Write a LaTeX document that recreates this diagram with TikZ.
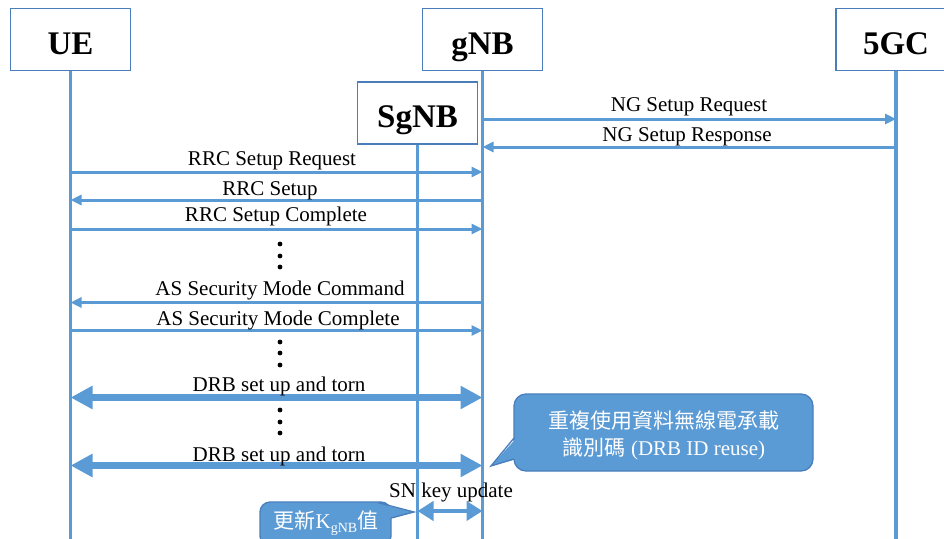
\documentclass[tikz,border=0pt]{standalone}
\usepackage{fontspec}
\setmainfont{Liberation Serif}
\newfontfamily\cjk{Noto Sans CJK TC}
\usetikzlibrary{arrows.meta}
\definecolor{lc}{HTML}{5B9BD5}
\definecolor{bc}{HTML}{4A7EBB}
\definecolor{cf}{HTML}{5B9BD5}
\newcommand\ttlfont{\fontsize{33}{36}\selectfont\bfseries}
\newcommand\labfont{\fontsize{21}{25}\selectfont}
\tikzset{
  ent/.style={draw=bc, line width=1.4pt, fill=white, minimum width=120pt, minimum height=62pt, inner sep=0pt, text height=29pt, text depth=0pt, font=\ttlfont},
  life/.style={draw=lc, line width=3.2pt},
  msg/.style={draw=lc, line width=3pt, -{Triangle[length=11pt,width=10pt]}},
  bigmsg/.style={draw=lc, line width=6.5pt, {Triangle[length=22pt,width=22pt]}-{Triangle[length=22pt,width=22pt]}},
  smallmsg/.style={draw=lc, line width=4.5pt, {Triangle[length=16pt,width=19pt]}-{Triangle[length=16pt,width=19pt]}},
  lab/.style={anchor=base, font=\labfont, inner sep=0pt},
  callbox/.style={draw=bc, line width=1.3pt, fill=cf, rounded corners=12pt, inner sep=0pt},
  calltext/.style={anchor=base, font=\labfont, text=white, inner sep=0pt},
  pointer/.style={draw=bc, line width=1.3pt, line join=miter},
}
\begin{document}
\begin{tikzpicture}[x=1pt,y=-1pt]
\useasboundingbox (0,0) rectangle (944,538);
\clip (0,0) rectangle (944,538);

% entities
\node[ent] (ue) at (70.5,39.5) {UE};
\node[ent] (gnb) at (482.5,39.5) {gNB};
\node[ent] (cn) at (896,39.5) {5GC};
\node[ent] (sgnb) at (417.5,113) {SgNB};

% lifelines
\draw[life] (ue.south) -- (ue |- 0,545);
\draw[life] (gnb.south) -- (gnb |- 0,545);
\draw[life] (cn.south) -- (cn |- 0,545);
\draw[life] (sgnb.south) -- (sgnb |- 0,545);

% messages
\draw[msg] (gnb |- 0,119) -- (cn |- 0,119);
\draw[msg] (cn |- 0,147) -- (gnb |- 0,147);
\draw[msg] (ue |- 0,172) -- (gnb |- 0,172);
\draw[msg] (gnb |- 0,200) -- (ue |- 0,200);
\draw[msg] (ue |- 0,229) -- (gnb |- 0,229);
\draw[msg] (gnb |- 0,302.5) -- (ue |- 0,302.5);
\draw[msg] (ue |- 0,330.5) -- (gnb |- 0,330.5);
\draw[bigmsg] (ue |- 0,397.5) -- (gnb |- 0,397.5);
\draw[bigmsg] (ue |- 0,465.5) -- (gnb |- 0,465.5);
\draw[smallmsg] (sgnb |- 0,511) -- (gnb |- 0,511);

% labels
\node[lab] (l1) at (689,111) {NG Setup Request};
\node[lab] (l2) at (687,141.5) {NG Setup Response};
\node[lab] (l3) at (272,165) {RRC Setup Request};
\node[lab] (l4) at (270,195) {RRC Setup};
\node[lab] (l5) at (276,221.5) {RRC Setup Complete};
\node[lab] (l6) at (280,295.5) {AS Security Mode Command};
\node[lab] (l7) at (278,325) {AS Security Mode Complete};
\node[lab] (l8) at (279,391.5) {DRB set up and torn};
\node[lab] (l9) at (279,461.5) {DRB set up and torn};
\node[lab] (l10) at (451,497) {SN key update};

% dots
\foreach \yy in {244,256,267,342,353,365,410,422,433}
  \fill (280,\yy) circle (2.4pt);

% big callout
\node[callbox, minimum width=299pt, minimum height=77pt] (reuse) at (663.5,432.5) {};
\fill[cf] (516.5,438) -- (491,466) -- (516.5,459) -- cycle;
\draw[pointer] (514,438) -- (491,466) -- (514,459);
\node[calltext] (reuse1) at (664,428) {\cjk 重複使用資料無線電承載};
\node[calltext] (reuse2) at (664,455) {{\cjk 識別碼} (DRB ID reuse)};

% small callout
\node[callbox, rounded corners=10pt, minimum width=131pt, minimum height=44pt] (kbox) at (325.5,524) {};
\fill[cf] (378,503.5) -- (414,512) -- (393.5,518) -- (378,518) -- cycle;
\draw[pointer] (378,502.6) -- (414,512) -- (391,518);
\node[calltext] (ktext) at (326,528) {{\cjk 更新}K\raisebox{-4pt}{\fontsize{14}{14}\selectfont gNB}{\cjk 值}};
\end{tikzpicture}
\end{document}
